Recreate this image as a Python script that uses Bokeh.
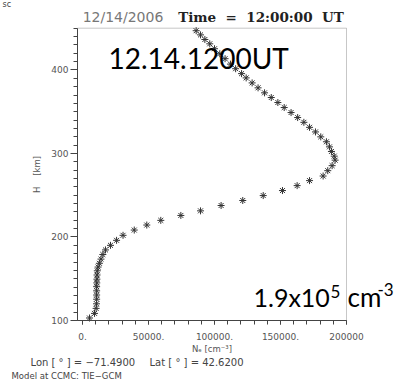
from bokeh.plotting import figure
from bokeh.models import Label, FixedTicker, LinearAxis, Range1d, BoxAnnotation
from bokeh.embed import file_html
from bokeh.resources import INLINE

# Electron density profile (cm^-3) versus height (km)
height_km = [103, 108.5, 114.5, 120, 125.5, 130.5, 135.5, 140.5, 145, 149.5,
             154.5, 159.5, 164, 168.5, 173.5, 179, 184.5, 190, 196, 202,
             208.3, 214.3, 219.9, 225.8, 231.3, 237.7, 243.7, 249.6, 255.6, 261.5,
             267.5, 273, 279.4, 285.4, 292, 296.8, 302.4, 307.9, 314, 319.9,
             325.8, 331.3, 337.3, 343, 349, 355, 361, 367, 372.6, 378.6,
             384.5, 390.5, 395.6, 401.5, 407, 413.5, 419.4, 425.4, 431.3, 436.5,
             442, 447]
ne_cm3 = [5300, 9100, 10300, 10600, 10700, 10700, 10700, 10700, 10800, 10900,
          11000, 11200, 11800, 12800, 14000, 15400, 17400, 21200, 25800, 30700,
          39200, 48700, 59300, 74500, 89400, 105000, 121400, 136900, 151500, 162600,
          172000, 182300, 185800, 189100, 191400, 190700, 188600, 187100, 184800, 180500,
          176500, 172000, 167700, 163000, 158000, 152800, 148000, 143000, 137900, 133000,
          128500, 124000, 120500, 116000, 112100, 108000, 104000, 100000, 96400, 92700,
          89400, 86100]

x_ticks = [0, 50000, 100000, 150000, 200000]
x_tick_labels = ["0.", "50000.", "100000.", "150000.", "200000"]
y_ticks = [100, 200, 300, 400]
x_limits = (-3800, 200000)
y_limits = (100, 450)

NB = "\u00a0"
title_date = "12/14/2006"
title_time = NB.join(["Time", "", "=", "", "12:00:00", "", "UT"])
overlay_time = "12.14.1200UT"
footer_lon = NB.join(["Lon", "[", "°", "]", "=", "\u221271.4900"])
footer_lat = NB.join(["Lat", "[", "°", "]", "=", "42.6200"])
footer_model = "Model at CCMC: TIE\u2212GCM"

# ---- layout (pixels) ----
W, H = 395, 381
FL, FR, FT, FB = 77, 346, 27.7, 320   # inner plot box in canvas pixels

sx = (FR - FL) / (x_limits[1] - x_limits[0])
sy = (FB - FT) / (y_limits[1] - y_limits[0])
x_outer = (x_limits[0] - FL / sx, x_limits[1] + (W - FR) / sx)
y_outer = (y_limits[0] - (H - FB) / sy, y_limits[1] + FT / sy)

p = figure(width=W, height=H, output_backend="svg", toolbar_location=None,
           x_range=Range1d(*x_outer), y_range=Range1d(*y_outer),
           x_axis_location=None, y_axis_location=None, min_border=0)
p.title.visible = False
p.outline_line_color = None
p.background_fill_color = "white"
p.border_fill_color = "white"
p.grid.visible = False

ax = LinearAxis(fixed_location=y_limits[0], bounds=x_limits)
ax.ticker = FixedTicker(ticks=x_ticks, minor_ticks=list(range(0, 200001, 10000)))
ax.major_label_overrides = {t: l for t, l in zip(x_ticks, x_tick_labels)}
ax.axis_label = "N\u2091 [cm\u207b\u00b3]"
ay = LinearAxis(fixed_location=x_limits[0], bounds=y_limits)
ay.ticker = FixedTicker(ticks=y_ticks, minor_ticks=list(range(100, 451, 10)))
ay.axis_label = "H" + NB * 4 + "[km]"

for a in (ax, ay):
    a.axis_line_color = "#444444"
    a.major_tick_line_color = "#444444"
    a.minor_tick_line_color = "#444444"
    a.major_tick_in = 0
    a.minor_tick_in = 0
    a.major_label_text_font = "DejaVu Sans"
    a.major_label_text_font_size = "9px"
    a.major_label_text_color = "#555555"
    a.axis_label_text_font = "DejaVu Sans"
    a.axis_label_text_font_size = "8.5px"
    a.axis_label_text_font_style = "normal"
    a.axis_label_text_color = "#555555"

ax.major_tick_out = 4
ax.minor_tick_out = 4
ax.major_label_standoff = 8
ax.axis_label_standoff = 1
ay.major_tick_out = 7
ay.minor_tick_out = 4
ay.major_label_standoff = 2
ay.axis_label_standoff = 6
p.add_layout(ax, "below")
p.add_layout(ay, "left")

p.add_layout(BoxAnnotation(left=x_limits[0], right=x_limits[1], bottom=y_limits[0], top=y_limits[1],
                           fill_color=None, line_color="#444444", line_width=1))

p.scatter(ne_cm3, height_km, marker="cross", size=7, line_color="#333333", line_width=1)
p.scatter(ne_cm3, height_km, marker="x", size=7, line_color="#333333", line_width=1)


def lab(px, py, text, font, size, color="black", style="normal", align="left"):
    p.add_layout(Label(x=px, y=H - py, x_units="screen", y_units="screen", text=text,
                       text_font=font, text_font_size=size, text_color=color,
                       text_font_style=style, text_align=align, text_baseline="middle"))


lab(2, 4, "sc", "DejaVu Sans", "8px", "#444444")
lab(122.5, 16, title_date, "DejaVu Sans", "14px", "#777777", align="center")
lab(260.5, 16, title_time, "DejaVu Serif", "13.5px", "#222222", style="bold", align="center")

lab(108, 57, overlay_time, "Lato", "28px")
lab(253, 296, "1.9x10", "Lato", "25px")
lab(330, 291, "5", "Lato", "17px")
lab(347, 296, "cm", "Lato", "26px")
lab(377, 289, "-3", "Lato", "17px")

lab(30, 362, footer_lon, "DejaVu Sans", "10px", "#444444")
lab(149, 362, footer_lat, "DejaVu Sans", "10px", "#444444")
lab(11, 375, footer_model, "DejaVu Sans", "8.5px", "#444444")

open("out.html", "w").write(file_html(p, INLINE))
